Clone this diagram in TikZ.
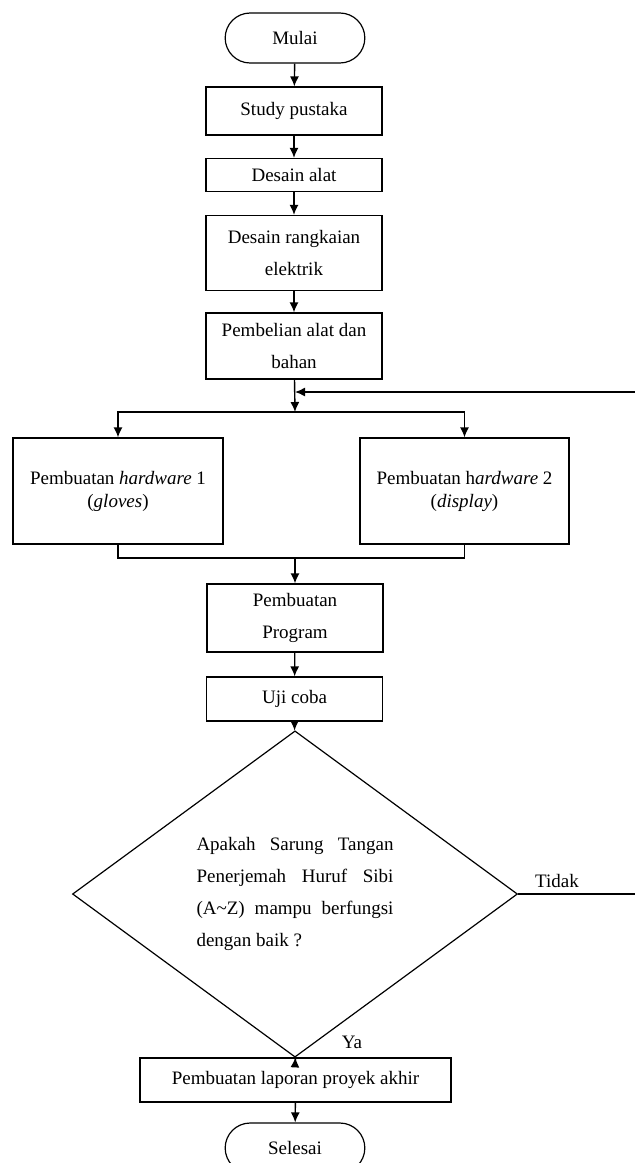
\documentclass[tikz,border=0pt]{standalone}
\usepackage{fontspec}
\setmainfont{Liberation Serif}
\usetikzlibrary{shapes.misc, shapes.geometric, arrows.meta}

\tikzset{
    kotak/.style={draw, line width=0.6pt, minimum width=88pt, align=center},
    terminal/.style={draw, rounded rectangle, line width=0.6pt, minimum width=76.5pt, minimum height=25pt},
    keputusan/.style={draw, diamond, line width=0.6pt, minimum width=222.5pt, minimum height=144pt, inner sep=2pt},
    panah/.style={draw, line width=0.7pt, -{Latex[length=5pt,width=4.5pt]}},
    garis/.style={draw, line width=0.7pt}
}

\begin{document}
\begin{tikzpicture}[x=0.5pt, y=-0.5pt, font=\fontsize{9.5}{16}\selectfont]
    \useasboundingbox (0,0) rectangle (635,1163);

    \node[terminal] (mulai) at (295,38) {Mulai};
    \node[kotak, minimum height=24pt] (study) at (294,111) {Study pustaka};
    \node[kotak, minimum height=16.5pt] (alat) at (294,175) {Desain alat};
    \node[kotak, minimum height=37.5pt] (rangkaian) at (294,253) {Desain rangkaian\\elektrik};
    \node[kotak, minimum height=33pt] (beli) at (294,346) {Pembelian alat dan\\bahan};
    \coordinate (balik) at (295,392);
    \coordinate (pisah) at (295,412);

    \node[kotak, minimum width=105pt, minimum height=53pt, font=\fontsize{9.5}{11.5}\selectfont] (hw1) at (118,491)
        {Pembuatan \textit{hardware} 1\\(\textit{gloves})};
    \node[kotak, minimum width=104.5pt, minimum height=53pt, font=\fontsize{9.5}{11.5}\selectfont] (hw2) at (464.5,491)
        {Pembuatan h\textit{ardware} 2\\(\textit{display})};
    \coordinate (gabung) at (295,558);

    \node[kotak, minimum height=34pt] (program) at (295,618) {Pembuatan\\Program};
    \node[kotak, minimum height=22pt] (uji) at (294.5,699) {Uji coba};
    \node[keputusan, text width=98.5pt, align=justify] (cek) at (295,894)
        {\tolerance=10000 \hyphenpenalty=10000 Apakah Sarung Tangan\linebreak Penerjemah Huruf Sibi\linebreak (A\textasciitilde Z) mampu berfungsi\linebreak dengan baik ?};
    \coordinate (kanan) at (637,894);
    \node[kotak, minimum width=155.5pt, minimum height=22pt] (laporan) at (295.5,1080) {Pembuatan laporan proyek akhir};
    \node[terminal] (selesai) at (295,1148) {Selesai};

    % alur utama
    \draw[panah] (mulai) -- (study);
    \draw[panah] (study) -- (alat);
    \draw[panah] (alat) -- (rangkaian);
    \draw[panah] (rangkaian) -- (beli);
    \draw[panah] (beli) -- (pisah);
    \draw[panah] (pisah) -| (hw1);
    \draw[panah] (pisah) -| (hw2);
    \draw[garis] (hw1) |- (gabung);
    \draw[garis] (hw2) |- (gabung);
    \draw[panah] (gabung) -- (program);
    \draw[panah] (program) -- (uji);
    \draw[panah] (uji) -- (cek);
    \draw[panah] (cek) -- (laporan);
    \draw[panah] (laporan) -- (selesai);

    % kembali jika tidak
    \draw[panah] (cek.east) -- (kanan) |- (balik);
    \node[anchor=base] (ya) at (352,1048) {Ya};
    \node[anchor=base] (tidak) at (557,887) {Tidak};
\end{tikzpicture}
\end{document}
